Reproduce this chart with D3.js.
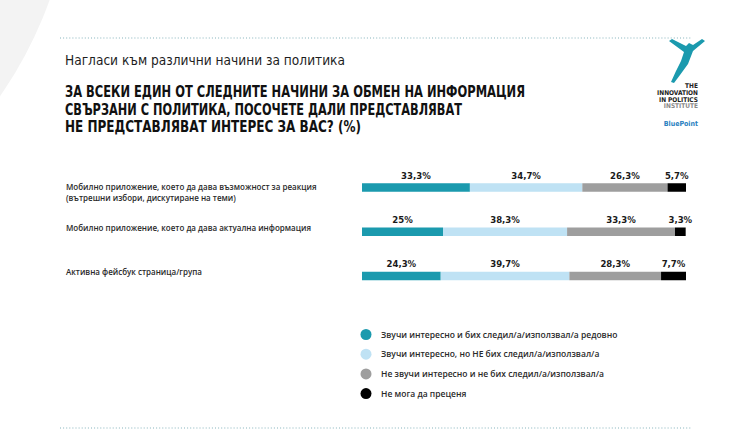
<!DOCTYPE html>
<html>
<head>
<meta charset="utf-8">
<script src="https://cdnjs.cloudflare.com/ajax/libs/d3/7.8.5/d3.min.js"></script>
<style>
	body { margin: 0; background: #fff; }
	svg { display: block; }
	.narrow { font-family: "Liberation Sans Narrow", "DejaVu Sans Condensed", "Roboto", sans-serif; }
	.body { font-family: "Open Sans", "Noto Sans", sans-serif; }
</style>
</head>
<body>
<svg id="chart" width="750" height="443"></svg>
<script>
'use strict';

//chart data
var categories = [
		['Мобилно приложение, което да дава възможност за реакция', '(вътрешни избори, дискутиране на теми)'],
		['Мобилно приложение, което да дава актуална информация'],
		['Активна фейсбук страница/група']
	],
	seriesNames = [
		'Звучи интересно и бих следил/а/използвал/а редовно',
		'Звучи интересно, но НЕ  бих следил/а/използвал/а',
		'Не звучи интересно и не бих следил/а/използвал/а',
		'Не мога да преценя'
	],
	interestedRegular = [33.3, 25, 24.3],
	interestedNot = [34.7, 38.3, 39.7],
	notInterested = [26.3, 33.3, 28.3],
	cantSay = [5.7, 3.3, 7.7],
	colors = ['#1b9aae', '#bfe2f4', '#9e9e9e', '#000000'],
	subtitle = 'Нагласи към различни начини за политика',
	heading = [
		'ЗА ВСЕКИ ЕДИН ОТ СЛЕДНИТЕ НАЧИНИ ЗА ОБМЕН НА ИНФОРМАЦИЯ',
		'СВЪРЗАНИ С ПОЛИТИКА, ПОСОЧЕТЕ ДАЛИ ПРЕДСТАВЛЯВАТ',
		'НЕ ПРЕДСТАВЛЯВАТ ИНТЕРЕС ЗА ВАС? (%)'
	],
	headingWidths = [460, 397, 296],
	logoLines = ['THE', 'INNOVATION', 'IN POLITICS', 'INSTITUTE'];

var series = [interestedRegular, interestedNot, notInterested, cantSay];

var svg = d3.select('#chart'),
	locale = d3.formatLocale({ decimal: ',', thousands: ' ', grouping: [3], currency: ['', ''] }),
	fmt = locale.format('.1~f');

//background decoration
svg.append('rect').attr('width', 750).attr('height', 443).attr('fill', '#fff');
svg.append('circle').attr('cx', -340).attr('cy', -140).attr('r', 414).attr('fill', '#f3f3f3');

function dottedLine(y) {
	svg.append('line')
		.attr('x1', 60).attr('x2', 692)
		.attr('y1', y).attr('y2', y)
		.attr('stroke', '#86b4bc')
		.attr('stroke-width', 1.1)
		.attr('stroke-dasharray', '1,2.1');
}
dottedLine(38);
dottedLine(428);

//titles
svg.append('text')
	.attr('class', 'narrow')
	.attr('x', 65).attr('y', 65)
	.attr('font-size', 14)
	.attr('fill', '#1e1e1e')
	.attr('textLength', 280)
	.attr('lengthAdjust', 'spacingAndGlyphs')
	.text(subtitle);

svg.selectAll('text.heading')
	.data(heading)
	.enter().append('text')
	.attr('class', 'heading narrow')
	.attr('x', 65)
	.attr('y', function(d, i) { return 97 + i * 17.5; })
	.attr('font-size', 15)
	.attr('font-weight', 'bold')
	.attr('fill', '#111')
	.attr('textLength', function(d, i) { return headingWidths[i]; })
	.attr('lengthAdjust', 'spacingAndGlyphs')
	.text(function(d) { return d; });

//logo
var logo = svg.append('g');
logo.append('path')
	.attr('d', 'M669,41 L672,39 L686,46 L689,43 L693,45 L702,39 L705,41 L693,51 L688,64 L680,75 L674,83 L671,82 L676,71 L681,61 L684,52 Z')
	.attr('fill', '#1b9aae');
logo.selectAll('text.logo')
	.data(logoLines)
	.enter().append('text')
	.attr('class', 'logo narrow')
	.attr('x', 698)
	.attr('y', function(d, i) { return 88 + i * 6.8; })
	.attr('text-anchor', 'end')
	.attr('font-size', 6.5)
	.attr('font-weight', 'bold')
	.attr('fill', function(d, i) { return i === 3 ? '#8a8a8a' : '#222'; })
	.text(function(d) { return d; });
logo.append('text')
	.attr('class', 'narrow')
	.attr('x', 698).attr('y', 126)
	.attr('text-anchor', 'end')
	.attr('font-size', 7)
	.attr('font-weight', 'bold')
	.attr('fill', '#2a7fc0')
	.text('BluePoint');

//scales
var x = d3.scaleLinear().domain([0, 100]).range([362, 686]),
	y = d3.scalePoint().domain(d3.range(categories.length)).range([187.5, 276]),
	barH = 8.5;

//stack rows
var rows = categories.map(function(c, i) {
	var start = 0;
	return series.map(function(s, k) {
		var seg = { row: i, k: k, x0: start, x1: start + s[i], v: s[i] };
		start += s[i];
		return seg;
	});
});

//category labels
var catG = svg.selectAll('g.cat')
	.data(categories)
	.enter().append('g')
	.attr('class', 'cat');
catG.selectAll('text')
	.data(function(d, i) { return d.map(function(t) { return { t: t, i: i, n: d.length }; }); })
	.enter().append('text')
	.attr('class', 'body')
	.attr('x', 66)
	.attr('y', function(d, j) { return y(d.i) + (d.n > 1 ? 2 : -1) + j * 11; })
	.attr('font-size', 8)
	.attr('font-weight', 600)
	.attr('fill', '#2a2a2a')
	.text(function(d) { return d.t; });

//bars
var rowG = svg.selectAll('g.row')
	.data(rows)
	.enter().append('g')
	.attr('class', 'row');
rowG.selectAll('rect')
	.data(function(d) { return d; })
	.enter().append('rect')
	.attr('x', function(d) { return x(d.x0); })
	.attr('y', function(d) { return y(d.row) - barH / 2; })
	.attr('width', function(d) { return x(d.x1) - x(d.x0); })
	.attr('height', barH)
	.attr('fill', function(d) { return colors[d.k]; });
rowG.selectAll('text')
	.data(function(d) { return d; })
	.enter().append('text')
	.attr('class', 'narrow')
	.attr('x', function(d) { return (x(d.x0) + x(d.x1)) / 2; })
	.attr('y', function(d) { return y(d.row) - 9; })
	.attr('text-anchor', 'middle')
	.attr('font-size', 9.5)
	.attr('font-weight', 'bold')
	.attr('fill', '#1a1a1a')
	.text(function(d) { return fmt(d.v) + '%'; });

//legend
var legend = svg.selectAll('g.legend')
	.data(seriesNames)
	.enter().append('g')
	.attr('class', 'legend')
	.attr('transform', function(d, i) { return 'translate(366,' + (334.5 + i * 19.7) + ')'; });
legend.append('circle')
	.attr('r', 5.5)
	.attr('fill', function(d, i) { return colors[i]; });
legend.append('text')
	.attr('class', 'body')
	.attr('x', 15)
	.attr('y', 3)
	.attr('font-size', 8.5)
	.attr('font-weight', 600)
	.attr('fill', '#2a2a2a')
	.text(function(d) { return d; });
</script>
</body>
</html>
